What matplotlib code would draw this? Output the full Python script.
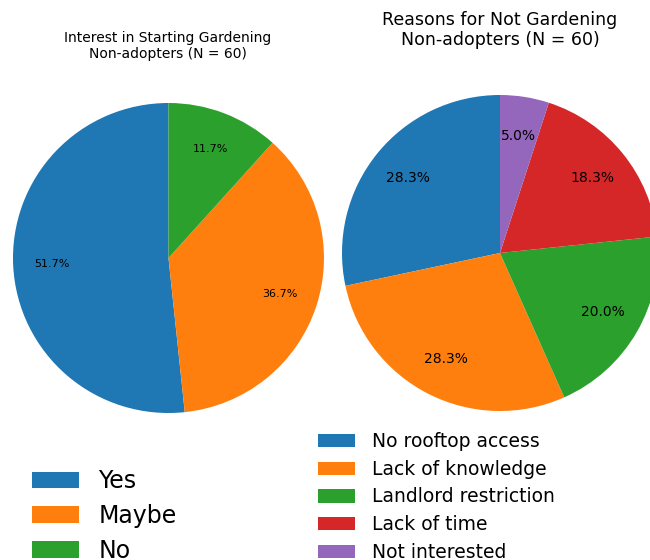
import matplotlib
matplotlib.use("Agg")
import matplotlib.pyplot as plt

# данные
interest_labels = ["Yes", "Maybe", "No"]
interest_counts = [31, 22, 7]

reason_labels = ["No rooftop access", "Lack of knowledge", "Landlord restriction",
                 "Lack of time", "Not interested"]
reason_counts = [17, 17, 12, 11, 3]

colors = ["#1f77b4", "#ff7f0e", "#2ca02c", "#d62728", "#9467bd"]

W, H = 650, 560
fig = plt.figure(figsize=(W / 100, H / 100), dpi=100)


def px_axes(x0, y0, x1, y1):
    # координаты в пикселях (верх-лево) -> доли фигуры
    return fig.add_axes([x0 / W, 1 - y1 / H, (x1 - x0) / W, (y1 - y0) / H])


# левая диаграмма
ax1 = px_axes(13, 103, 324, 413)
w1, _, _ = ax1.pie(interest_counts, colors=colors[:3], startangle=90,
                   autopct="%1.1f%%", pctdistance=0.75,
                   textprops={"fontsize": 8})
ax1.set_aspect("auto")
ax1.set_xlim(-1, 1)
ax1.set_ylim(-1, 1)
fig.text(168 / W, 1 - 46 / H, "Interest in Starting Gardening\nNon-adopters (N = 60)",
         ha="center", va="center", fontsize=10, linespacing=1.1)

# правая диаграмма
ax2 = px_axes(342, 95, 658, 411)
w2, _, _ = ax2.pie(reason_counts, colors=colors, startangle=90,
                   autopct="%1.1f%%", pctdistance=0.75,
                   textprops={"fontsize": 10})
ax2.set_aspect("auto")
ax2.set_xlim(-1, 1)
ax2.set_ylim(-1, 1)
fig.text(500 / W, 1 - 30 / H, "Reasons for Not Gardening\nNon-adopters (N = 60)",
         ha="center", va="center", fontsize=12.5, linespacing=1.1)

# легенды
fig.legend(w1, interest_labels, loc="upper left", bbox_to_anchor=(11 / W, 1 - 448 / H),
           frameon=False, fontsize=17, handlelength=2.0, labelspacing=0.45,
           handletextpad=0.8)
fig.legend(w2, reason_labels, loc="upper left", bbox_to_anchor=(301 / W, 1 - 415 / H),
           frameon=False, fontsize=13.5, handlelength=2.0, labelspacing=0.47,
           handletextpad=0.9)

fig.savefig("out.png", dpi=100)
